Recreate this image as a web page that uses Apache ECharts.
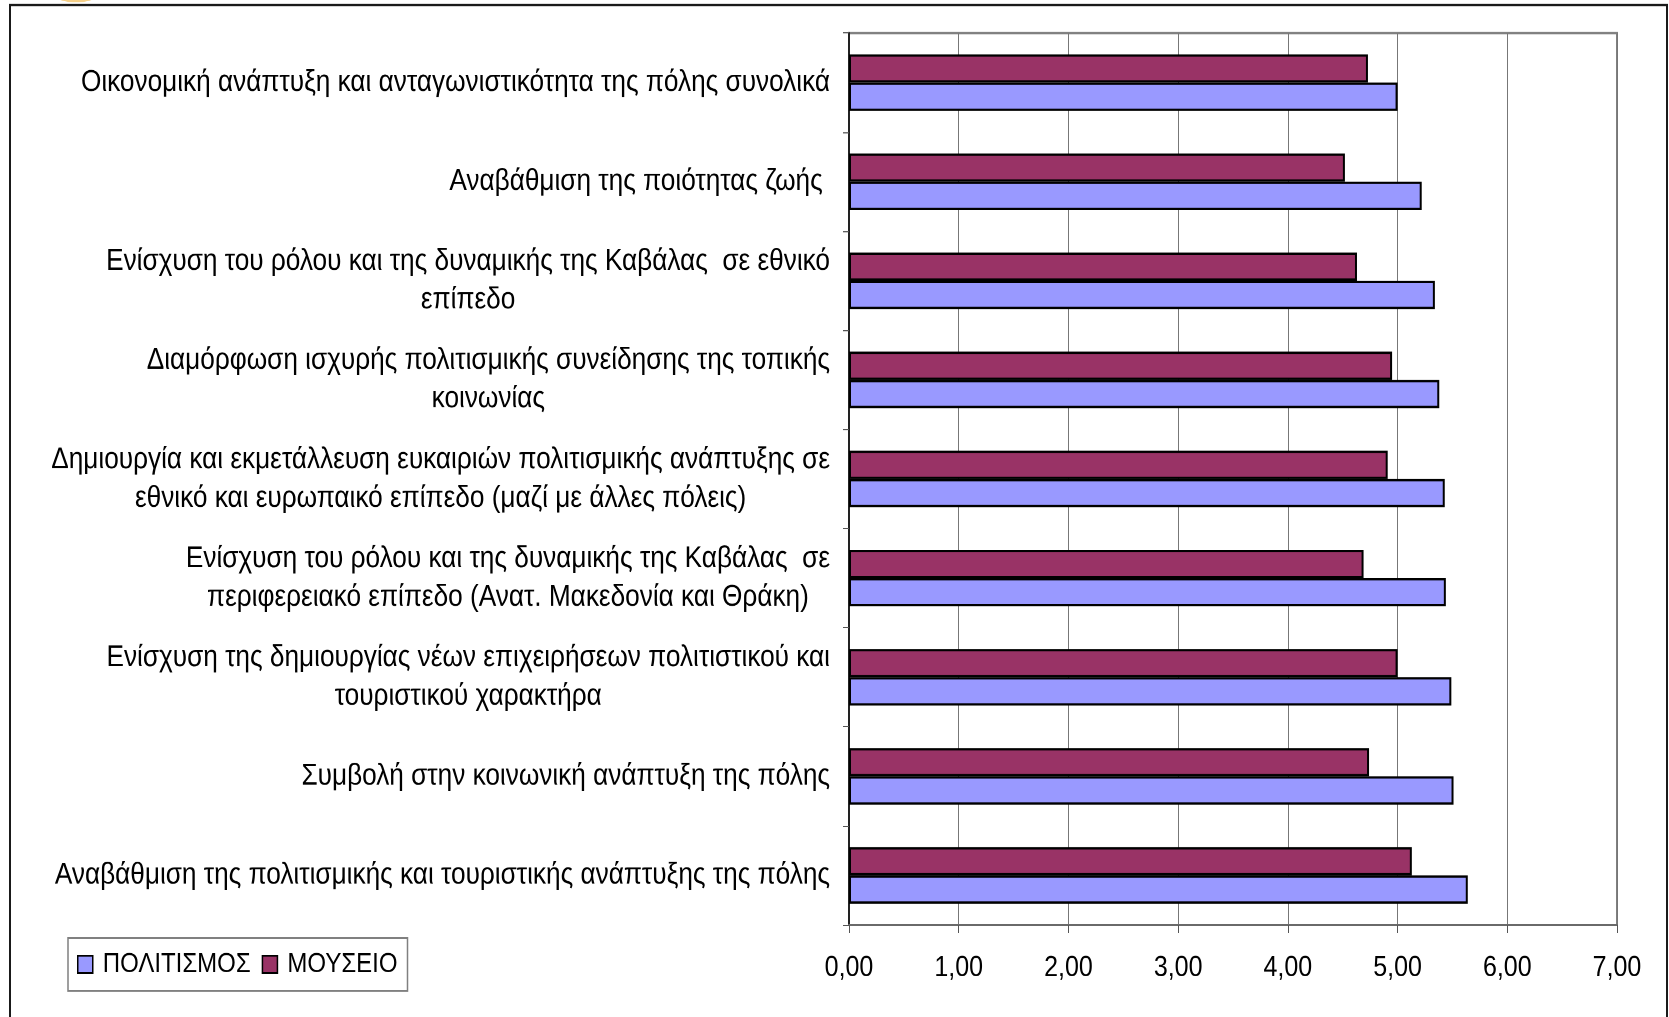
<!DOCTYPE html>
<html>
<head>
<meta charset="utf-8">
<script src="https://cdn.jsdelivr.net/npm/echarts@6/dist/echarts.min.js"></script>
<style>
  html, body { margin: 0; padding: 0; background: #fff; }
  #frame { width: 1669px; height: 1017px; position: relative; }
  /* the chart is laid out in a shorter box and stretched vertically,
     which gives the tall, narrow lettering of the original slide */
  #chart {
    position: absolute; left: 0; top: 0;
    width: 1669px; height: 884px;
    transform: scaleY(1.15045);
    transform-origin: 0 0;
  }
</style>
</head>
<body>
<div id="frame"><div id="chart"></div></div>
<script>
// Categories listed from the bottom of the axis to the top
const categories = [
  'Αναβάθμιση της πολιτισμικής και τουριστικής ανάπτυξης της πόλης',
  'Συμβολή στην κοινωνική ανάπτυξη της πόλης',
  'Ενίσχυση της δημιουργίας νέων επιχειρήσεων πολιτιστικού και\nτουριστικού χαρακτήρα',
  'Ενίσχυση του ρόλου και της δυναμικής της Καβάλας  σε\nπεριφερειακό επίπεδο (Ανατ. Μακεδονία και Θράκη)',
  'Δημιουργία και εκμετάλλευση ευκαιριών πολιτισμικής ανάπτυξης σε\nεθνικό και ευρωπαικό επίπεδο (μαζί με άλλες πόλεις)',
  'Διαμόρφωση ισχυρής πολιτισμικής συνείδησης της τοπικής\nκοινωνίας',
  'Ενίσχυση του ρόλου και της δυναμικής της Καβάλας  σε εθνικό\nεπίπεδο',
  'Αναβάθμιση της ποιότητας ζωής ',
  'Οικονομική ανάπτυξη και ανταγωνιστικότητα της πόλης συνολικά'
];

const politismos = [5.64, 5.51, 5.49, 5.44, 5.43, 5.38, 5.34, 5.22, 5.00];
const mouseio    = [5.13, 4.74, 5.00, 4.69, 4.91, 4.95, 4.63, 4.52, 4.73];

const seriesNames = ['ΠΟΛΙΤΙΣΜΟΣ', 'ΜΟΥΣΕΙΟ'];
const xTicks = { min: 0, max: 7, step: 1 };

const FONT = "'Liberation Sans', Arial, sans-serif";

const chart = echarts.init(document.getElementById('chart'), null, {
  renderer: 'canvas', devicePixelRatio: 2
});

chart.setOption({
  backgroundColor: '#ffffff',
  animation: false,
  textStyle: { fontFamily: FONT },
  graphic: [
    // outer frame
    {
      type: 'rect', z: -1,
      shape: { x: 10, y: 4.35, width: 1657, height: 1000 },
      style: { fill: 'none', stroke: '#1a1a1a', lineWidth: 2 }
    },
    // small orange corner ornament
    {
      type: 'ellipse', z: -2,
      shape: { cx: 76, cy: -5, rx: 22, ry: 7 },
      style: { fill: '#f4c46a', opacity: 0.8 }
    }
  ],
  grid: {
    left: 849, top: 28.7, right: 52, bottom: 80,
    show: true, borderColor: '#808080', borderWidth: 2,
    backgroundColor: 'transparent', containLabel: false
  },
  legend: {
    data: seriesNames,
    left: 68, top: 815.3,
    orient: 'horizontal',
    icon: 'rect',
    itemWidth: 15, itemHeight: 15,
    itemGap: 11,
    padding: [11, 10, 11, 9],
    borderColor: '#808080', borderWidth: 1.5,
    itemStyle: { borderColor: '#000', borderWidth: 1.5 },
    textStyle: { fontFamily: FONT, fontSize: 24, color: '#000', padding: [0, 0, 0, 5] }
  },
  xAxis: {
    type: 'value',
    min: xTicks.min, max: xTicks.max, interval: xTicks.step,
    axisLine: { show: true, lineStyle: { color: '#6a6a6a', width: 2 } },
    axisTick: { show: true, length: 7, lineStyle: { color: '#555', width: 1 } },
    splitLine: { show: true, lineStyle: { color: '#777777', width: 1 } },
    axisLabel: {
      margin: 25,
      color: '#000', fontFamily: FONT, fontSize: 25,
      formatter: v => v.toFixed(2).replace('.', ',')
    }
  },
  yAxis: {
    type: 'category',
    data: categories,
    axisLine: { show: true, lineStyle: { color: '#222', width: 2 } },
    axisTick: { show: true, length: 6, lineStyle: { color: '#555', width: 1 } },
    axisLabel: {
      margin: 19,
      color: '#000',
      interval: 0,
      // lines of a wrapped label are centred on each other
      formatter: v => v.split('\n').map(s => '{c|' + s + '}').join('\n'),
      rich: {
        c: { align: 'center', fontFamily: FONT, fontSize: 26.2, lineHeight: 33.5, color: '#000' }
      }
    }
  },
  series: [
    {
      name: seriesNames[1], type: 'bar', data: mouseio,
      barGap: '0%', barCategoryGap: '43%',
      itemStyle: { color: '#993366', borderColor: '#000', borderWidth: 2 }
    },
    {
      name: seriesNames[0], type: 'bar', data: politismos,
      barGap: '0%', barCategoryGap: '43%',
      itemStyle: { color: '#9999ff', borderColor: '#000', borderWidth: 2 }
    }
  ]
});
</script>
</body>
</html>
